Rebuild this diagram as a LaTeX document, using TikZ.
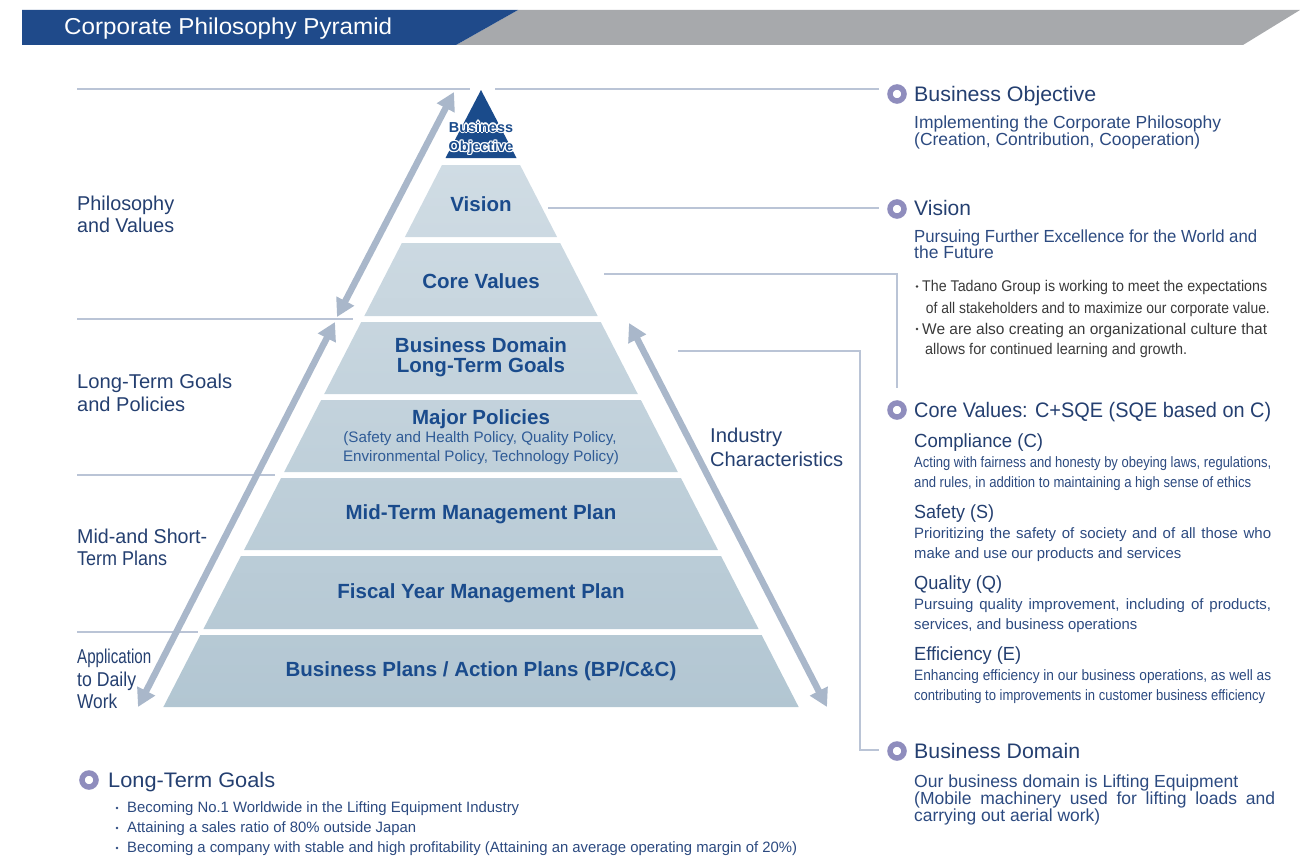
\documentclass[tikz,border=0pt]{standalone}
\usepackage{fontspec}
\setmainfont{Liberation Sans}
\usepackage{graphicx}
\usetikzlibrary{arrows.meta}

\definecolor{hdrblue}{HTML}{1F4A8A}
\definecolor{hdrgray}{HTML}{A7A9AC}
\definecolor{pyrtop}{HTML}{D0DCE4}
\definecolor{pyrbot}{HTML}{B2C6D2}
\definecolor{apexblue}{HTML}{1A4B8B}
\definecolor{bandtext}{HTML}{1A4B8C}
\definecolor{subtext}{HTML}{2F5B96}
\definecolor{navy}{HTML}{243F70}
\definecolor{descblue}{HTML}{2C4A80}
\definecolor{darkgray}{HTML}{3A3A3A}
\definecolor{arrowc}{HTML}{A9B7CA}
\definecolor{linec}{HTML}{BAC4D6}
\definecolor{ringc}{HTML}{8F8DBD}

\newlength\fitw
% scale horizontally to a given width
\newcommand\sx[2]{\resizebox{#1}{\height}{#2}}
% justify (stretch spaces) to a given width, or condense if too long
\newcommand\jus[2]{\settowidth\fitw{#2}\ifdim\fitw>#1\relax\resizebox{#1}{\height}{#2}\else\makebox[#1][s]{#2}\fi}
\newcommand\fsz[1]{\fontsize{#1pt}{#1pt}\selectfont}
\newcommand\halocopy[3]{\rlap{\hspace*{#1}\raisebox{#2}{\color{white}#3}}}
\newcommand\halobox[1]{\halocopy{-1.3pt}{0pt}{#1}\halocopy{1.3pt}{0pt}{#1}\halocopy{0pt}{1.3pt}{#1}\halocopy{0pt}{-1.3pt}{#1}\halocopy{0.9pt}{0.9pt}{#1}\halocopy{-0.9pt}{0.9pt}{#1}\halocopy{0.9pt}{-0.9pt}{#1}\halocopy{-0.9pt}{-0.9pt}{#1}#1}

\tikzset{
  lbl/.style={inner sep=0pt, anchor=base west, text=navy},
  leftlbl/.style={lbl, font=\fsz{20}},
  ttl/.style={lbl, font=\fsz{21}},
  subhd/.style={lbl, font=\fsz{19}},
  desc/.style={lbl, text=descblue, font=\fsz{15}},
  bigdesc/.style={lbl, text=descblue, font=\fsz{17.5}},
  graydesc/.style={lbl, text=darkgray, font=\fsz{15.5}},
  bandlbl/.style={inner sep=0pt, anchor=base, text=bandtext, font=\bfseries\fsz{20.5}},
  bandsub/.style={inner sep=0pt, anchor=base, text=subtext, font=\fsz{15.2}},
  apexfont/.style={inner sep=0pt, anchor=base, text=apexblue, font=\bfseries\fsz{14.4}},
  hline/.style={draw=linec, line width=1.3pt},
  bigarrow/.style={draw=arrowc, line width=6.5pt, {Triangle[length=18pt,width=19pt]}-{Triangle[length=18pt,width=19pt]}},
  ring/.style={circle, draw=ringc, line width=5.5pt, minimum size=14pt, inner sep=0pt},
  dotc/.style={circle, fill=#1, inner sep=0pt, minimum size=2.6pt},
}

\newcommand\bandpath[2]{({481-0.514*(#1-89)},#1) -- ({481+0.514*(#1-89)},#1) -- ({481+0.514*(#2-89)},#2) -- ({481-0.514*(#2-89)},#2) -- cycle}

\begin{document}
\begin{tikzpicture}[x=1pt, y=-1pt]
\useasboundingbox (0,0) rectangle (1300,859);

% header
\fill[hdrgray] (518,10) -- (1300,10) -- (1243,45) -- (456,45) -- cycle;
\fill[hdrblue] (22,10) -- (518,10) -- (456,45) -- (22,45) -- cycle;
\node[inner sep=0pt, anchor=base west, text=white, font=\fsz{23}] (title) at (64,35) {\sx{328pt}{Corporate Philosophy Pyramid}};

% pyramid bands
\begin{scope}
  \clip \bandpath{165}{237} \bandpath{243}{316} \bandpath{322}{394} \bandpath{400}{472}
        \bandpath{478}{550} \bandpath{556}{629} \bandpath{635}{707};
  \shade[top color=pyrtop, bottom color=pyrbot] (150,160) rectangle (810,710);
\end{scope}
\fill[apexblue] (481,90) -- (516.5,158) -- (445.5,158) -- cycle;

% horizontal guide lines
\coordinate (l0a) at (77,89);   \coordinate (l0b) at (470,89);
\coordinate (l1a) at (77,319);  \coordinate (l1b) at (353,319);
\coordinate (l2a) at (77,475);  \coordinate (l2b) at (275,475);
\coordinate (l3a) at (77,632);  \coordinate (l3b) at (198,632);
\draw[hline] (l0a) -- (l0b);
\draw[hline] (l1a) -- (l1b);
\draw[hline] (l2a) -- (l2b);
\draw[hline] (l3a) -- (l3b);

% bullets (rings)
\node[ring] (rBO) at (897,94) {};
\node[ring] (rV) at (897,209) {};
\node[ring] (rCV) at (897,410) {};
\node[ring] (rBD) at (897,751) {};
\node[ring] (rLT) at (89,780) {};

% connectors to right column
\coordinate (cBO) at (495,89);
\coordinate (cBOend) at (879,89);
\coordinate (cV) at (548,208);
\coordinate (cVend) at (879,208);
\coordinate (cCV) at (604,274);
\coordinate (cCVend) at (897,388);
\coordinate (cBD) at (678,351);
\coordinate (cBDend) at (879,750);
\draw[hline] (cBO) -- (cBOend);
\draw[hline] (cV) -- (cVend);
\draw[hline] (cCV) -| (cCVend);
\draw[hline] (cBD) -| (860,750) -- (cBDend);

% big arrows
\coordinate (a1s) at (337,317); \coordinate (a1e) at (454,92);
\coordinate (a2s) at (138,707); \coordinate (a2e) at (335,322);
\coordinate (a3s) at (629,323); \coordinate (a3e) at (827,707);
\draw[bigarrow] (a1s) -- (a1e);
\draw[bigarrow] (a2s) -- (a2e);
\draw[bigarrow] (a3s) -- (a3e);

% apex text
\node[apexfont] (bo1) at (481,132) {\halobox{Business}};
\node[apexfont] (bo2) at (481,151.5) {\halobox{Objective}};

% band labels
\node[bandlbl] (tV) at (481,211.5) {Vision};
\node[bandlbl] (tCV) at (481,288) {Core Values};
\node[bandlbl] (tBD1) at (481,352) {Business Domain};
\node[bandlbl] (tBD2) at (481,372.5) {Long-Term Goals};
\node[bandlbl] (tMP) at (481,424) {Major Policies};
\node[bandsub] (tMP1) at (480,442) {(Safety and Health Policy, Quality Policy,};
\node[bandsub] (tMP2) at (481,461) {Environmental Policy, Technology Policy)};
\node[bandlbl] (tMT) at (481,519.5) {Mid-Term Management Plan};
\node[bandlbl] (tFY) at (481,598) {Fiscal Year Management Plan};
\node[bandlbl] (tBP) at (481,676) {Business Plans / Action Plans (BP/C\&C)};

% left labels
\node[leftlbl] (pv1) at (77,210) {\sx{97pt}{Philosophy}};
\node[leftlbl] (pv2) at (77,232) {\sx{97pt}{and Values}};
\node[leftlbl] (lg1) at (77,388) {\sx{155pt}{Long-Term Goals}};
\node[leftlbl] (lg2) at (77,411) {\sx{108pt}{and Policies}};
\node[leftlbl] (ms1) at (77,543.5) {\jus{130pt}{Mid-and Short-}};
\node[leftlbl] (ms2) at (77,565) {\sx{90pt}{Term Plans}};
\node[leftlbl] (ad1) at (77,663.5) {\sx{74pt}{Application}};
\node[leftlbl] (ad2) at (77,686) {\sx{59pt}{to Daily}};
\node[leftlbl] (ad3) at (77,708) {\sx{40pt}{Work}};
\node[leftlbl] (ic1) at (710,442) {\sx{72pt}{Industry}};
\node[leftlbl] (ic2) at (710,466) {\sx{133pt}{Characteristics}};

% right column: Business Objective
\node[ttl] (hBO) at (914,101) {\sx{182pt}{Business Objective}};
\node[bigdesc] (dBO1) at (914,128.5) {\sx{307pt}{Implementing the Corporate Philosophy}};
\node[bigdesc] (dBO2) at (914,145.3) {\sx{286pt}{(Creation, Contribution, Cooperation)}};

% Vision
\node[ttl] (hV) at (914,215.5) {Vision};
\node[bigdesc] (dV1) at (914,242) {\sx{343pt}{Pursuing Further Excellence for the World and}};
\node[bigdesc] (dV2) at (914,258.7) {the Future};
\node[dotc=darkgray] (b1) at (917,286.5) {};
\node[graydesc] (g1) at (922,291.3) {\jus{345pt}{The Tadano Group is working to meet the expectations}};
\node[graydesc] (g2) at (925.7,313) {\jus{344pt}{of all stakeholders and to maximize our corporate value.}};
\node[dotc=darkgray] (b2) at (917,329) {};
\node[graydesc] (g3) at (922,334) {\jus{345pt}{We are also creating an organizational culture that}};
\node[graydesc] (g4) at (925,354.6) {\sx{262pt}{allows for continued learning and growth.}};

% Core Values
\node[ttl] (hCV) at (914,417) {\sx{357pt}{Core Values: C+SQE (SQE based on C)}};
\node[subhd] (sC) at (914,447.5) {\sx{129pt}{Compliance (C)}};
\node[desc] (dC1) at (914,467) {\jus{357pt}{Acting with fairness and honesty by obeying laws, regulations,}};
\node[desc] (dC2) at (914,487) {\sx{337pt}{and rules, in addition to maintaining a high sense of ethics}};
\node[subhd] (sS) at (914,518) {\sx{80pt}{Safety (S)}};
\node[desc] (dS1) at (914,538) {\jus{357pt}{Prioritizing the safety of society and of all those who}};
\node[desc] (dS2) at (914,558) {\sx{267pt}{make and use our products and services}};
\node[subhd] (sQ) at (914,589) {\sx{88pt}{Quality (Q)}};
\node[desc] (dQ1) at (914,609) {\jus{357pt}{Pursuing quality improvement, including of products,}};
\node[desc] (dQ2) at (914,629) {\sx{223pt}{services, and business operations}};
\node[subhd] (sE) at (914,660.5) {\sx{107pt}{Efficiency (E)}};
\node[desc] (dE1) at (914,680) {\jus{357pt}{Enhancing efficiency in our business operations, as well as}};
\node[desc] (dE2) at (914,700) {\sx{351pt}{contributing to improvements in customer business efficiency}};

% Business Domain
\node[ttl] (hBD) at (914,758) {\sx{166pt}{Business Domain}};
\node[bigdesc] (dBD1) at (914,787) {\sx{324pt}{Our business domain is Lifting Equipment}};
\node[bigdesc] (dBD2) at (914,804.5) {\jus{361pt}{(Mobile machinery used for lifting loads and}};
\node[bigdesc] (dBD3) at (914,821) {\sx{186pt}{carrying out aerial work)}};

% Long-Term Goals (bottom left)
\node[ttl] (hLT) at (108,787) {\sx{167pt}{Long-Term Goals}};
\node[dotc=descblue] (lb1) at (117,808) {};
\node[desc] (lt1) at (127,812.5) {\sx{392pt}{Becoming No.1 Worldwide in the Lifting Equipment Industry}};
\node[dotc=descblue] (lb2) at (117,828) {};
\node[desc] (lt2) at (127,832.5) {\sx{289pt}{Attaining a sales ratio of 80\% outside Japan}};
\node[dotc=descblue] (lb3) at (117,848) {};
\node[desc] (lt3) at (127,852.5) {\sx{670pt}{Becoming a company with stable and high profitability (Attaining an average operating margin of 20\%)}};
\end{tikzpicture}
\end{document}
